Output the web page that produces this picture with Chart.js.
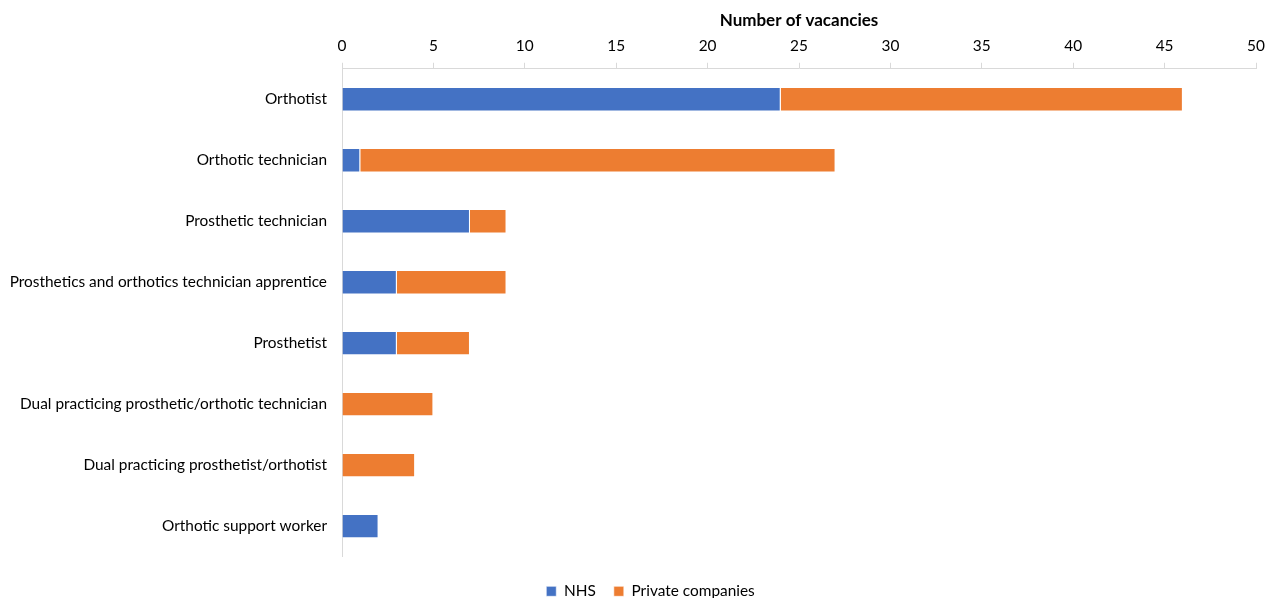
<!DOCTYPE html>
<html>
<head>
<meta charset="utf-8">
<script src="https://cdn.jsdelivr.net/npm/chart.js@4"></script>
<style>
    html, body { margin: 0; padding: 0; background: #fff; }
    #frame { width: 1266px; height: 598px; overflow: hidden; position: relative; }
    #wrap { width: 1266px; height: 609px; }
</style>
</head>
<body>
<div id="frame"><div id="wrap"><canvas id="chartVacancies"></canvas></div></div>
<script>
const roles = [
    'Orthotist',
    'Orthotic technician',
    'Prosthetic technician',
    'Prosthetics and orthotics technician apprentice',
    'Prosthetist',
    'Dual practicing prosthetic/orthotic technician',
    'Dual practicing prosthetist/orthotist',
    'Orthotic support worker'
];
const nhs = [24, 1, 7, 3, 3, 0, 0, 2];
const privateCompanies = [22, 26, 2, 6, 4, 5, 4, 0];

Chart.defaults.font.family = 'Lato, "Open Sans", sans-serif';
Chart.defaults.font.size = 15.4;
Chart.defaults.color = '#000';

const LEFT_PAD = 9;
const AXIS_X = 342;

// nudge the legend row a little right of the canvas centre
const legendShift = {
    id: 'legendShift',
    afterLayout(chart) {
        const lg = chart.legend;
        lg.left += 14;
        lg.right += 14;
        (lg.legendHitBoxes || []).forEach(h => { h.left += 14; });
    }
};

let context = document.querySelector('#chartVacancies').getContext('2d');

let config = {
    type: 'bar',
    data: {
        labels: roles,
        datasets: [{
            label: 'NHS',
            data: nhs,
            backgroundColor: '#4472C4',
            borderColor: 'rgba(255,255,255,0.6)',
            borderWidth: 1,
            barPercentage: 0.4,
            categoryPercentage: 1
        }, {
            label: 'Private companies',
            data: privateCompanies,
            backgroundColor: '#ED7D31',
            borderColor: 'rgba(255,255,255,0.6)',
            borderWidth: 1,
            barPercentage: 0.4,
            categoryPercentage: 1
        }]
    },
    options: {
        indexAxis: 'y',
        responsive: true,
        maintainAspectRatio: false,
        animation: false,
        layout: {
            padding: { top: 13, right: 2, left: LEFT_PAD, bottom: 0 }
        },
        plugins: {
            legend: {
                position: 'bottom',
                // empty title just opens a gap between the axis and the legend row
                title: {
                    display: true,
                    text: '',
                    font: { size: 7.5 },
                    padding: 0
                },
                labels: {
                    boxWidth: 10,
                    boxHeight: 10,
                    padding: 18,
                    font: { size: 15.4 }
                }
            },
            tooltip: { enabled: false }
        },
        scales: {
            x: {
                position: 'top',
                stacked: true,
                min: 0,
                max: 50,
                ticks: { stepSize: 5, padding: 8 },
                grid: {
                    drawOnChartArea: false,
                    drawTicks: true,
                    tickLength: 6,
                    color: '#d9d9d9'
                },
                border: { display: true, color: '#d9d9d9' },
                title: {
                    display: true,
                    text: 'Number of vacancies',
                    font: { size: 17, weight: 'bold', lineHeight: 0.9 },
                    padding: { top: 0, bottom: 0 }
                },
                afterFit: (scale) => {
                    scale.paddingLeft = 0;
                    scale.paddingRight = 10;
                }
            },
            y: {
                stacked: true,
                ticks: { padding: 7 },
                grid: { display: false },
                border: { display: true, color: '#d9d9d9' },
                // fixed label column so the axis line sits in the same place every time
                afterFit: (scale) => {
                    scale.width = AXIS_X - LEFT_PAD;
                }
            }
        }
    },
    plugins: [legendShift]
};

let chartVacancies = new Chart(context, config);
</script>
</body>
</html>
